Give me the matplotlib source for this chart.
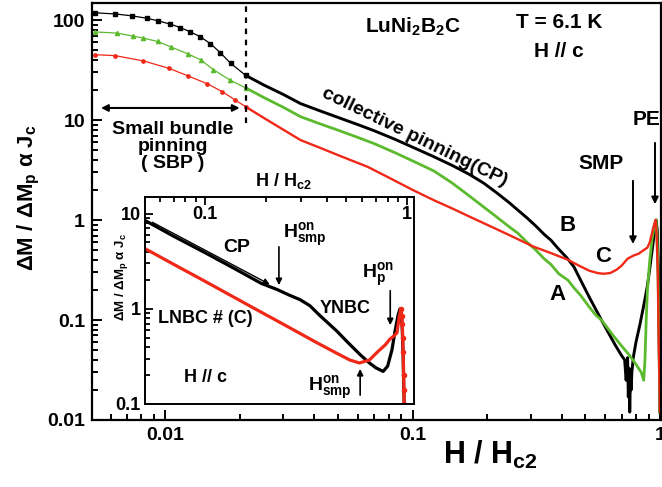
import numpy as np
import matplotlib
matplotlib.use("Agg")
import matplotlib.pyplot as plt
from matplotlib.ticker import LogLocator, NullFormatter


# =========================
# DATA
# =========================

# main panel, LuNi2B2C, T = 6.1 K
h_black = [0.00521, 0.00628, 0.00735, 0.00845, 0.00937, 0.01047, 0.0115, 0.01263,
           0.01386, 0.01521, 0.0167, 0.01834, 0.0211, 0.025, 0.03, 0.0352, 0.042,
           0.05, 0.06, 0.07, 0.085, 0.1, 0.1217, 0.145, 0.17, 0.1937, 0.22, 0.245,
           0.266, 0.29, 0.315, 0.34, 0.362, 0.39, 0.42, 0.449, 0.48, 0.52, 0.55,
           0.58, 0.62, 0.66, 0.7, 0.72, 0.73, 0.74, 0.745, 0.75, 0.755, 0.76, 0.765,
           0.77, 0.78, 0.8, 0.83, 0.86, 0.89, 0.91, 0.93, 0.95, 0.965, 0.975, 0.985,
           0.992, 0.997, 1.0]
m_black = [118, 115, 110, 104, 98, 91, 84, 76,
           68, 58, 47, 37, 28, 22.4, 18.0, 14.6, 12.4,
           10.6, 9.0, 7.8, 6.4, 5.35, 4.3, 3.5, 2.85, 2.34, 1.85, 1.5,
           1.26, 1.05, 0.87, 0.72, 0.63, 0.51, 0.42, 0.34, 0.245, 0.166, 0.128,
           0.1, 0.074, 0.056, 0.044, 0.04, 0.025, 0.042, 0.017, 0.033, 0.012, 0.028, 0.02,
           0.03, 0.042, 0.06, 0.09, 0.14, 0.22, 0.33, 0.5, 0.75, 1.0, 0.8, 0.35,
           0.08, 0.03, 0.012]

h_green = [0.00521, 0.0064, 0.0074, 0.00815, 0.0093, 0.0105, 0.0123, 0.0139,
           0.0156, 0.0183, 0.0211, 0.025, 0.03, 0.0352, 0.042, 0.05, 0.06, 0.07,
           0.085, 0.1, 0.1217, 0.145, 0.17, 0.1937, 0.22, 0.245, 0.266, 0.29, 0.315,
           0.34, 0.362, 0.39, 0.425, 0.449, 0.48, 0.52, 0.55, 0.58, 0.65, 0.7, 0.75,
           0.8, 0.84, 0.86, 0.87, 0.88, 0.89, 0.91, 0.93, 0.95, 0.965, 0.975, 0.985,
           0.992, 1.0]
m_green = [76, 74, 69, 66, 61, 54, 46, 40,
           32, 25, 21, 16.8, 13.4, 10.8, 9.2, 7.9, 6.7, 5.8,
           4.7, 3.9, 3.1, 2.33, 1.73, 1.35, 1.06, 0.86, 0.74, 0.6, 0.5,
           0.41, 0.36, 0.29, 0.25, 0.21, 0.174, 0.133, 0.112, 0.1, 0.069, 0.055, 0.045,
           0.036, 0.03, 0.025, 0.04, 0.1, 0.2, 0.4, 0.65, 0.9, 1.0, 0.6, 0.2,
           0.05, 0.012]

h_red = [0.00521, 0.00628, 0.00815, 0.0103, 0.0124, 0.0148, 0.017, 0.0192,
         0.0211, 0.025, 0.03, 0.0352, 0.042, 0.05, 0.0658, 0.08, 0.1, 0.1217, 0.145,
         0.17, 0.1937, 0.245, 0.309, 0.36, 0.425, 0.47, 0.52, 0.56, 0.59, 0.63,
         0.67, 0.7, 0.74, 0.78, 0.82, 0.86, 0.89, 0.91, 0.93, 0.95, 0.96, 0.97,
         0.98, 0.985, 0.99, 0.995, 1.0]
m_red = [45, 44, 39, 33, 27.5, 23, 19.2, 15.8,
         13.6, 10.5, 8.0, 6.3, 5.3, 4.45, 3.4, 2.66, 2.0, 1.58, 1.3,
         1.08, 0.93, 0.71, 0.54, 0.47, 0.40, 0.35, 0.31, 0.295, 0.29, 0.295,
         0.32, 0.35, 0.41, 0.44, 0.46, 0.5, 0.53, 0.6, 0.75, 0.92, 1.0, 0.7,
         0.3, 0.12, 0.05, 0.025, 0.012]

# inset: YNBC (black) and LNBC #(C) (red)
h_in_black = [0.0505, 0.07, 0.1, 0.14, 0.19, 0.227, 0.26, 0.295, 0.33, 0.37,
              0.415, 0.45, 0.5, 0.585, 0.65, 0.7, 0.76, 0.8, 0.84, 0.87, 0.9,
              0.92, 0.935, 0.945, 0.955, 0.96, 0.966]
m_in_black = [8.5, 5.8, 3.9, 2.65, 1.85, 1.6, 1.4, 1.25, 1.08, 0.85,
              0.68, 0.58, 0.46, 0.33, 0.27, 0.24, 0.22, 0.25, 0.37, 0.58, 0.85,
              1.0, 0.9, 0.6, 0.3, 0.16, 0.1]

h_in_red = [0.0505, 0.07, 0.1, 0.167, 0.25, 0.358, 0.45, 0.52, 0.58, 0.65, 0.71,
            0.78, 0.82, 0.86, 0.89, 0.91, 0.93, 0.94, 0.945, 0.95, 0.955, 0.96,
            0.963, 0.966]
m_in_red = [4.3, 2.94, 1.95, 1.07, 0.67, 0.44, 0.34, 0.29, 0.27, 0.29, 0.35,
            0.42, 0.48, 0.52, 0.56, 0.8, 1.0, 0.85, 0.7, 0.5, 0.35, 0.2,
            0.14, 0.1]

BLACK = "#000000"
GREEN = "#5cba2e"
RED = "#f02818"

W, H = 662, 487


def px(x, y):
    # pixel position in the picture -> figure fraction
    return x / W, 1 - y / H


# =========================
# STYLE
# =========================

plt.rcParams["font.family"] = "Liberation Sans"
plt.rcParams["font.weight"] = "bold"
plt.rcParams["mathtext.fontset"] = "custom"
plt.rcParams["mathtext.rm"] = "Liberation Sans:bold"
plt.rcParams["mathtext.it"] = "Liberation Sans:bold"
plt.rcParams["mathtext.bf"] = "Liberation Sans:bold"
plt.rcParams["mathtext.sf"] = "Liberation Sans:bold"

fig = plt.figure(figsize=(W / 100, H / 100), dpi=100)


# =========================
# MAIN PANEL
# =========================

ax = fig.add_axes([92 / W, 67 / H, 569 / W, 417 / H])
ax.set_xscale("log")
ax.set_yscale("log")

SPLIT = 0.0211  # below: sparse points with markers, above: dense data

for h, m, col, mk, ms, lw in [(h_black, m_black, BLACK, "s", 2.4, 2.1),
                              (h_green, m_green, GREEN, "^", 3.0, 2.0),
                              (h_red, m_red, RED, "o", 2.4, 1.7)]:
    h, m = np.array(h), np.array(m)
    lo, hi = h <= SPLIT, h >= SPLIT
    ax.plot(h[lo], m[lo], color=col, lw=0.9, marker=mk, ms=ms)
    ax.plot(h[hi], m[hi], color=col, lw=lw)

ax.set_xlim(0.00505, 1.01)
ax.set_ylim(0.01, 148)

ax.set_xticks([0.01, 0.1, 1], ["0.01", "0.1", "1"])
ax.set_yticks([0.01, 0.1, 1, 10, 100], ["0.01", "0.1", "1", "10", "100"])
ax.xaxis.set_minor_locator(LogLocator(base=10, subs=np.arange(2, 10)))
ax.yaxis.set_minor_locator(LogLocator(base=10, subs=np.arange(2, 10)))
ax.xaxis.set_minor_formatter(NullFormatter())
ax.yaxis.set_minor_formatter(NullFormatter())
ax.tick_params(which="both", direction="in", top=False, right=False,
               labelsize=14, width=1.4, pad=5)
ax.tick_params(which="major", length=7)
ax.tick_params(which="minor", length=4)
for s in ax.spines.values():
    s.set_linewidth(1.6)

# SBP boundary
ax.plot([0.0211, 0.0211], [9.3, 148], color="k", lw=1.6, ls=(0, (2.5, 2.5)), zorder=2)
ax.annotate("", xy=(0.00535, 13.2), xytext=(0.0205, 13.2),
            arrowprops=dict(arrowstyle="<|-|>", color="k", lw=1.5, mutation_scale=10))

ax.text(0.0107, 5.4, "Small bundle\npinning\n( SBP )", ha="center", va="center",
        fontsize=14, linespacing=1.0)
ax.text(0.102, 6.7, "collective pinning(CP)", ha="center", va="center",
        fontsize=14, rotation=-26)

ax.text(0.1, 85, "LuNi$_2$B$_2$C", ha="center", va="center", fontsize=15)
ax.text(0.39, 95, "T = 6.1 K", ha="center", va="center", fontsize=15)
ax.text(0.39, 48, "H // c", ha="center", va="center", fontsize=15)

ax.text(0.425, 0.89, "B", ha="center", va="center", fontsize=16)
ax.text(0.587, 0.43, "C", ha="center", va="center", fontsize=16)
ax.text(0.386, 0.178, "A", ha="center", va="center", fontsize=16)
ax.text(0.577, 3.7, "SMP", ha="center", va="center", fontsize=15)
ax.text(0.778, 10.2, "PE", ha="left", va="center", fontsize=15)

ax.annotate("", xy=(0.778, 0.54), xytext=(0.778, 2.63),
            arrowprops=dict(arrowstyle="-|>", color="k", lw=1.4, mutation_scale=10))
ax.annotate("", xy=(0.955, 1.35), xytext=(0.955, 6.3),
            arrowprops=dict(arrowstyle="-|>", color="k", lw=1.4, mutation_scale=10))

fig.text(*px(490, 455), "H / H$_{c2}$", ha="center", va="center", fontsize=22)
fig.text(*px(29, 198), "ΔM / ΔM$_p$ α J$_c$", ha="center", va="center",
         fontsize=16, rotation=90)


# =========================
# INSET
# =========================

axi = fig.add_axes([145 / W, 83 / H, 269 / W, 207 / H])
axi.set_xscale("log")
axi.set_yscale("log")
axi.set_facecolor("white")

axi.plot(h_in_black, m_in_black, color=BLACK, lw=2.3)
axi.plot(h_in_red, m_in_red, color=RED, lw=2.3)
hir, mir = np.array(h_in_red), np.array(m_in_red)
axi.plot(hir[hir >= 0.93], mir[hir >= 0.93], ls="none", marker="o", ms=3, color=RED)

axi.set_xlim(0.0505, 1.08)
axi.set_ylim(0.1, 15)
axi.set_xticks([0.1, 1], ["0.1", "1"])
axi.set_yticks([0.1, 1, 10], ["0.1", "1", "10"])
axi.xaxis.set_minor_locator(LogLocator(base=10, subs=np.arange(2, 10)))
axi.yaxis.set_minor_locator(LogLocator(base=10, subs=np.arange(2, 10)))
axi.xaxis.set_minor_formatter(NullFormatter())
axi.yaxis.set_minor_formatter(NullFormatter())
axi.tick_params(which="both", direction="in", top=True, bottom=False,
                labeltop=True, labelbottom=False, right=False,
                labelsize=13, width=1.3)
axi.tick_params(axis="x", pad=-19)
axi.tick_params(axis="y", pad=3)
axi.tick_params(which="major", length=6)
axi.tick_params(which="minor", length=3.5)
for s in axi.spines.values():
    s.set_linewidth(1.4)

axi.annotate("", xy=(0.215, 1.75), xytext=(0.0534, 8.4),
             arrowprops=dict(arrowstyle="-|>", color="k", lw=1.0, mutation_scale=9))
axi.text(0.144, 4.4, "CP", ha="center", va="center", fontsize=14)

axi.text(0.313, 6.0, "H$_{smp}^{on}$", ha="center", va="center", fontsize=14)
axi.annotate("", xy=(0.232, 1.66), xytext=(0.232, 4.8),
             arrowprops=dict(arrowstyle="-|>", color="k", lw=1.2, mutation_scale=9))

axi.text(0.493, 1.0, "YNBC", ha="center", va="center", fontsize=13)
axi.text(0.0585, 0.80, "LNBC # (C)", ha="left", va="center", fontsize=13)
axi.text(0.1, 0.188, "H // c", ha="center", va="center", fontsize=13)

axi.text(0.717, 2.3, "H$_p^{on}$", ha="center", va="center", fontsize=14)
axi.annotate("", xy=(0.824, 0.63), xytext=(0.824, 1.66),
             arrowprops=dict(arrowstyle="-|>", color="k", lw=1.2, mutation_scale=9))

axi.text(0.416, 0.148, "H$_{smp}^{on}$", ha="center", va="center", fontsize=14)
axi.annotate("", xy=(0.585, 0.25), xytext=(0.585, 0.116),
             arrowprops=dict(arrowstyle="-|>", color="k", lw=1.2, mutation_scale=9))

fig.text(*px(283, 181), "H / H$_{c2}$", ha="center", va="center", fontsize=13)
fig.text(*px(121, 277), "ΔM / ΔM$_p$ α J$_c$", ha="center", va="center",
         fontsize=9.5, rotation=90)

fig.savefig("out.png", dpi=100)
